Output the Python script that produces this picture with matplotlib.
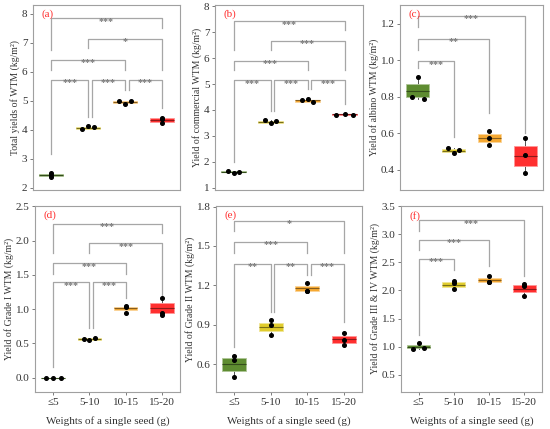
import numpy as np
import matplotlib
matplotlib.use("Agg")
import matplotlib.pyplot as plt
from matplotlib import colors as mcolors

plt.rcParams['font.family'] = ['Liberation Serif', 'DejaVu Serif']

# categorias
grupos = ['≤5', '5-10', '10-15', '15-20']
colores = ['#5e8c31', '#e0cc2e', '#f6a932', '#ff2f2f']

# (a) rendimiento total
a_puntos = [[2.52, 2.45, 2.38], [4.01, 4.13, 4.08], [4.99, 4.89, 5.00], [4.42, 4.36, 4.22]]
a_cajas = [[2.38, 2.41, 2.44, 2.48, 2.52], [4.01, 4.04, 4.07, 4.10, 4.13],
           [4.89, 4.92, 4.97, 5.00, 5.00], [4.22, 4.27, 4.34, 4.41, 4.42]]
a_signif = [(1, 2, 5.72, 3.18, 4.45, '***'), (2, 3, 5.72, 4.45, 5.37, '***'),
            (3, 4, 5.72, 5.37, 4.74, '***'), (1, 3, 6.41, 6.06, 6.06, '***'),
            (2, 4, 7.14, 6.81, 6.06, '*'), (1, 4, 7.85, 6.76, 7.50, '***')]

# (b) comercial
b_puntos = [[1.63, 1.57, 1.62], [3.60, 3.48, 3.57], [4.37, 4.44, 4.29], [3.81, 3.86, 3.81]]
b_cajas = [[1.57, 1.59, 1.61, 1.625, 1.63], [3.48, 3.50, 3.54, 3.565, 3.60],
           [4.29, 4.31, 4.37, 4.40, 4.44], [3.81, 3.815, 3.835, 3.85, 3.86]]
b_signif = [(1, 2, 5.14, 1.99, 3.96, '***'), (2, 3, 5.14, 3.96, 4.79, '***'),
            (3, 4, 5.14, 4.79, 4.21, '***'), (1, 3, 5.89, 5.55, 5.55, '***'),
            (2, 4, 6.65, 6.31, 5.55, '***'), (1, 4, 7.42, 6.31, 7.07, '***')]

# (c) albino
c_puntos = [[0.80, 0.908, 0.79], [0.519, 0.491, 0.51], [0.616, 0.573, 0.539], [0.573, 0.482, 0.382]]
c_cajas = [[0.79, 0.798, 0.835, 0.869, 0.908], [0.491, 0.50, 0.506, 0.513, 0.519],
           [0.539, 0.555, 0.577, 0.597, 0.616], [0.382, 0.424, 0.477, 0.533, 0.573]]
c_signif = [(1, 2, 0.995, 0.957, 0.583, '***'), (1, 3, 1.12, 1.058, 0.71, '**'),
            (1, 4, 1.246, 1.185, 0.60, '***')]

# (d) grado I
d_puntos = [[0.0, 0.0, 0.0], [0.565, 0.545, 0.584], [1.046, 1.027, 0.949], [1.168, 0.94, 0.92]]
d_cajas = [[0.0, 0.0, 0.0, 0.0, 0.0], [0.545, 0.555, 0.565, 0.575, 0.584],
           [0.949, 0.99, 1.012, 1.036, 1.046], [0.92, 0.949, 1.017, 1.095, 1.168]]
d_signif = [(1, 2, 1.39, 0.16, 0.72, '***'), (2, 3, 1.39, 0.72, 1.16, '***'),
            (1, 3, 1.67, 1.52, 1.52, '***'), (2, 4, 1.96, 1.815, 1.16, '***'),
            (1, 4, 2.24, 1.815, 2.11, '***')]

# (e) grado II
e_puntos = [[0.666, 0.633, 0.50], [0.935, 0.90, 0.823], [1.216, 1.158, 1.16], [0.836, 0.785, 0.747]]
e_cajas = [[0.50, 0.549, 0.60, 0.651, 0.666], [0.823, 0.856, 0.886, 0.917, 0.935],
           [1.158, 1.16, 1.178, 1.196, 1.216], [0.747, 0.765, 0.79, 0.815, 0.836]]
e_signif = [(1, 2, 1.363, 0.734, 1.0, '**'), (2, 3, 1.363, 1.0, 1.28, '**'),
            (3, 4, 1.363, 1.28, 0.924, '***'), (1, 3, 1.528, 1.444, 1.444, '***'),
            (1, 4, 1.693, 1.617, 1.444, '*')]

# (f) grado III y IV
f_puntos = [[0.956, 1.063, 0.986], [2.17, 2.13, 2.02], [2.26, 2.147, 2.15], [2.12, 2.08, 1.91]]
f_cajas = [[0.956, 0.974, 1.0, 1.033, 1.063], [2.02, 2.058, 2.10, 2.147, 2.17],
           [2.147, 2.153, 2.19, 2.224, 2.26], [1.91, 1.98, 2.02, 2.09, 2.12]]
f_signif = [(1, 2, 2.556, 1.21, 2.37, '***'), (1, 3, 2.90, 2.72, 2.43, '***'),
            (1, 4, 3.243, 3.065, 2.25, '***')]

# desplazamiento horizontal de los puntos (jitter) por grupo
a_jit = [0, 0.16, 0.16, 0]
b_jit = [0.16, 0.16, 0.16, 0.22]
c_jit = [0.16, 0.16, 0, 0]
d_jit = [0.21, 0.16, 0, 0]
e_jit = [0, 0, 0, 0]
f_jit = [0.16, 0, 0, 0]

paneles = [
    ('(a)', 'Total yields of WTM (kg/m²)', a_puntos, a_cajas, a_signif, a_jit,
     (1.92, 8.31), np.arange(2, 9, 1), '{:.0f}'),
    ('(b)', 'Yield of commercial WTM (kg/m²)', b_puntos, b_cajas, b_signif, b_jit,
     (0.91, 8.05), np.arange(1, 9, 1), '{:.0f}'),
    ('(c)', 'Yield of albino WTM (kg/m²)', c_puntos, c_cajas, c_signif, c_jit,
     (0.29, 1.304), np.arange(0.4, 1.21, 0.2), '{:.1f}'),
    ('(d)', 'Yield of Grade I WTM (kg/m²)', d_puntos, d_cajas, d_signif, d_jit,
     (-0.209, 2.507), np.arange(0, 2.51, 0.5), '{:.1f}'),
    ('(e)', 'Yield of Grade II WTM (kg/m²)', e_puntos, e_cajas, e_signif, e_jit,
     (0.389, 1.804), np.arange(0.6, 1.81, 0.3), '{:.1f}'),
    ('(f)', 'Yield of Grade III & IV WTM (kg/m²)', f_puntos, f_cajas, f_signif, f_jit,
     (0.198, 3.50), np.arange(0.5, 3.51, 0.5), '{:.1f}'),
]

W, H = 550, 429
posiciones = [(33, 180, 5, 190), (215, 363, 5, 190), (400, 543, 5, 190),
              (35, 180, 206, 392), (216, 362, 206, 392), (401, 542, 206, 392)]

fig = plt.figure(figsize=(W / 100, H / 100), dpi=100)
gris = '#a6a6a6'
tam_est = 7.2

for i, (etq, ylab, puntos, cajas, signif, jit, ylim, yt, fmt) in enumerate(paneles):
    x0, x1, y0, y1 = posiciones[i]
    ax = fig.add_axes([x0 / W, 1 - y1 / H, (x1 - x0) / W, (y1 - y0) / H])
    xs = np.arange(1, 5)

    # brackets de significancia
    usados = []
    for (g1, g2, h, b1, b2, txt) in signif:
        xl = g1
        if (g1, h) in usados:
            xl = g1 + 0.1
        ax.plot([xl, xl, g2, g2], [b1, h, h, b2], color=gris, lw=0.9, zorder=1)
        usados.append((g2, h))
        ax.annotate(txt, xy=((xl + g2) / 2, h), xytext=(0, -0.52 * tam_est),
                    textcoords='offset points', ha='center', va='baseline',
                    fontsize=tam_est, fontweight='bold', color='#7a7a7a', zorder=2)

    # cajas
    stats = []
    for c in cajas:
        stats.append({'whislo': c[0], 'q1': c[1], 'med': c[2], 'q3': c[3], 'whishi': c[4]})
    cj = ax.bxp(stats, positions=xs, widths=0.65, patch_artist=True, showfliers=False,
                showcaps=False, manage_ticks=False)
    for k, caja in enumerate(cj['boxes']):
        col = mcolors.to_rgb(colores[k])
        caja.set_facecolor(col)
        caja.set_edgecolor(tuple(min(1, v * 0.5 + 0.5) for v in col))
        caja.set_linewidth(0.6)
        caja.set_zorder(3)
        cj['medians'][k].set_color(tuple(v * 0.55 for v in col))
        cj['medians'][k].set_linewidth(0.8)
        cj['medians'][k].set_zorder(4)
    for wh in cj['whiskers']:
        wh.set_color('#333333')
        wh.set_linewidth(0.6)
        wh.set_zorder(2.5)

    # puntos
    for k, p in enumerate(puntos):
        off = np.array([-1, 0, 1]) * jit[k]
        ax.plot(xs[k] + off[:len(p)], p, 'o', color='black', ms=2.6, zorder=5)

    ax.set_xlim(0.5, 4.5)
    ax.set_ylim(*ylim)
    ax.set_yticks(yt)
    ax.set_yticklabels([fmt.format(v) for v in yt])
    ax.set_ylabel(ylab, fontsize=7.0, color='#333333', labelpad=1)
    ax.tick_params(axis='y', labelsize=8, length=2.5, width=0.6, color='#666666',
                   labelcolor='#333333', pad=1.5)
    if i >= 3:
        ax.set_xticks(xs)
        ax.set_xticklabels(grupos)
        ax.tick_params(axis='x', labelsize=8, length=2.5, width=0.6, color='#666666',
                       labelcolor='#333333', pad=2)
        ax.set_xlabel('Weights of a single seed (g)', fontsize=8, color='#333333', labelpad=6)
    else:
        ax.set_xticks([])
    for s in ax.spines.values():
        s.set_color('#a0a0a0')
        s.set_linewidth(0.8)
    ax.text(0.06, 0.975, etq, transform=ax.transAxes, ha='left', va='top',
            fontsize=8, color='#ff3030')

fig.savefig('out.png', dpi=100)
